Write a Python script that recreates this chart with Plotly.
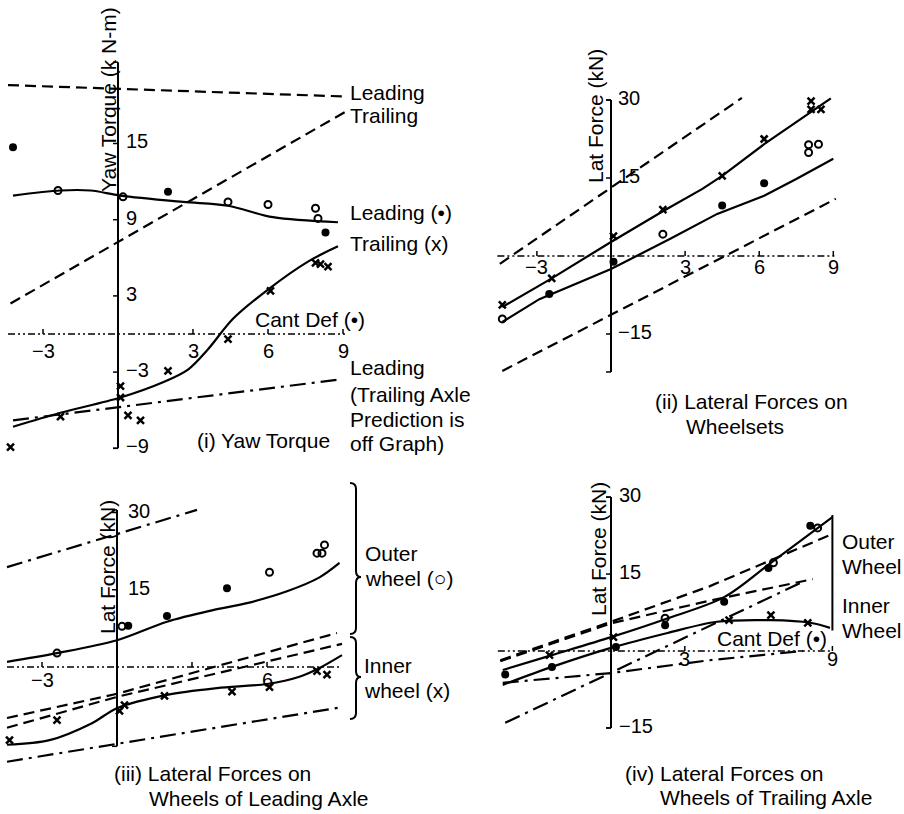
import plotly.graph_objects as go

W, H = 904, 814
FONT = "Liberation Sans, Arial, sans-serif"
FS = 21
FS_TICK = 20

# ---------------- Panel (i) Yaw Torque ----------------
i_lead_pred_x = [-4.4, 9.1]
i_lead_pred_y = [19.6, 18.7]
i_trail_pred_x = [-4.3, 9.1]
i_trail_pred_y = [2.4, 17.5]
i_lead_curve_x = [-4.2, -2.3, -1.1, 0.1, 2.6, 4.4, 6.2, 8.8]
i_lead_curve_y = [10.9, 11.3, 11.3, 10.9, 10.4, 10.1, 9.2, 8.8]
i_lead_open_x = [-2.4, 0.2, 4.4, 6.0, 7.9, 8.0]
i_lead_open_y = [11.3, 10.8, 10.4, 10.2, 9.9, 9.1]
i_lead_fill_x = [-4.2, 2.0, 8.3]
i_lead_fill_y = [14.7, 11.2, 8.0]
i_trail_curve_x = [-4.2, -2.3, 0.1, 1.8, 2.8, 3.6, 4.6, 6.0, 7.6, 8.8]
i_trail_curve_y = [-7.3, -6.2, -5.0, -3.8, -2.8, -1.2, 1.2, 3.5, 5.7, 6.9]
i_trail_mk_x = [-4.3, -2.3, 0.1, 0.1, 0.4, 0.9, 2.0, 4.4, 6.1, 7.9, 8.1, 8.4]
i_trail_mk_y = [-8.9, -6.5, -4.1, -5.0, -6.4, -6.8, -2.9, -0.4, 3.4, 5.6, 5.5, 5.3]
i_lead_dd_x = [-4.2, 8.8]
i_lead_dd_y = [-6.8, -3.6]
i_xticks = [-3, 3, 6, 9]
i_yticks = [15, 9, 3, -3, -9]

# ---------------- Panel (ii) Lateral forces on wheelsets ----------------
ii_up_dash_x = [-4.5, 5.3]
ii_up_dash_y = [-1.5, 30.4]
ii_lo_dash_x = [-4.4, 9.1]
ii_lo_dash_y = [-22.1, 11.0]
ii_x_curve_x = [-4.4, -2.4, 0.0, 2.1, 3.7, 4.5, 6.2, 8.2, 8.9]
ii_x_curve_y = [-9.8, -4.3, 2.7, 8.6, 12.9, 15.4, 21.5, 27.9, 30.3]
ii_x_mk_x = [-4.4, -2.4, 0.1, 2.1, 4.5, 6.2, 8.1, 8.1, 8.5]
ii_x_mk_y = [-9.4, -4.3, 3.8, 8.9, 15.4, 22.5, 29.8, 28.2, 28.2]
ii_o_curve_x = [-4.4, -2.9, 0.0, 2.4, 4.3, 6.2, 7.5, 9.0]
ii_o_curve_y = [-12.7, -8.3, -2.5, 3.3, 8.1, 11.6, 14.8, 18.7]
ii_fill_x = [-2.5, 0.1, 4.5, 6.2]
ii_fill_y = [-7.3, -1.1, 9.7, 14.0]
ii_open_x = [-4.4, 2.1, 8.0, 8.0, 8.4]
ii_open_y = [-12.1, 4.2, 21.4, 19.9, 21.5]
ii_xticks = [-3, 3, 6, 9]
ii_yticks = [30, 15, -15]

# ---------------- Panel (iii) Leading axle wheels ----------------
iii_up_dd_x = [-4.4, 3.2]
iii_up_dd_y = [19.4, 30.5]
iii_lo_dd_x = [-4.4, 9.0]
iii_lo_dd_y = [-18.4, -7.8]
iii_outer_curve_x = [-4.4, -2.4, 0.0, 2.0, 3.8, 5.2, 6.8, 8.1, 8.9]
iii_outer_curve_y = [1.0, 2.7, 5.2, 8.8, 11.0, 12.4, 14.7, 17.4, 20.2]
iii_outer_open_x = [-2.4, 0.2, 6.1, 8.0, 8.2, 8.3]
iii_outer_open_y = [2.7, 7.9, 18.4, 22.1, 22.1, 23.7]
iii_outer_fill_x = [0.45, 2.0, 4.4]
iii_outer_fill_y = [8.0, 9.9, 15.3]
iii_inner_curve_x = [-4.4, -2.7, -1.0, 0.0, 2.0, 4.0, 6.0, 7.3, 8.1, 9.0]
iii_inner_curve_y = [-15.1, -14.2, -10.9, -8.0, -5.4, -4.1, -3.3, -1.9, -0.2, 2.3]
iii_inner_mk_x = [-4.3, -2.4, 0.1, 0.3, 1.9, 4.6, 6.1, 8.0, 8.4]
iii_inner_mk_y = [-14.2, -10.3, -8.5, -7.4, -5.6, -4.8, -3.9, -0.8, -1.5]
iii_dash1_x = [-4.4, 0.0, 8.8]
iii_dash1_y = [-9.9, -5.2, 6.6]
iii_dash2_x = [-4.4, 0.0, 9.0]
iii_dash2_y = [-11.8, -5.8, 4.5]
iii_xticks = [-3, 3, 6]
iii_xlabels = [-3, 6]
iii_yticks = [30, 15]

# ---------------- Panel (iv) Trailing axle wheels ----------------
iv_up_dash_x = [-4.5, 0.0, 4.0, 8.9]
iv_up_dash_y = [-1.8, 5.7, 12.6, 22.6]
iv_lo_dash_x = [-4.5, 0.0, 4.0, 8.2]
iv_lo_dash_y = [-2.0, 5.4, 9.8, 14.0]
iv_outer_curve_x = [-4.4, -2.4, 0.0, 2.2, 4.6, 6.5, 9.0]
iv_outer_curve_y = [-3.7, -0.8, 2.7, 6.2, 10.5, 17.2, 26.1]
iv_inner_curve_x = [-4.4, -2.4, 0.0, 2.3, 4.3, 6.5, 8.1, 8.9]
iv_inner_curve_y = [-6.6, -3.1, 0.6, 3.5, 5.7, 6.0, 5.5, 4.5]
iv_fill_x = [-4.3, -2.4, 0.2, 2.2, 4.6, 6.4, 8.1]
iv_fill_y = [-4.6, -3.1, 0.8, 5.0, 9.6, 16.2, 24.4]
iv_open_x = [2.2, 6.6, 8.4]
iv_open_y = [6.4, 17.2, 24.0]
iv_x_mk_x = [-2.5, 0.1, 4.8, 6.5, 8.0]
iv_x_mk_y = [-0.8, 2.7, 6.0, 7.0, 5.5]
iv_steep_dd_x = [-4.3, 7.8]
iv_steep_dd_y = [-14.0, 13.5]
iv_flat_dd_x = [-4.4, 0.0, 4.0, 7.8]
iv_flat_dd_y = [-6.2, -4.3, -1.8, 0.0]
iv_brace_x = [9.0, 9.0]
iv_brace_y = [4.0, 26.5]
iv_xticks = [3, 9]
iv_yticks = [30, 15, -15]

# ---------------- geometry (pixels) ----------------
GEOM = {
    1: dict(ox=118, oy=334, sx=25.0, sy=12.7, box=(0, 55, 352, 458), xlab_dy=17, ylab_dx=6),
    2: dict(ox=611, oy=256, sx=24.7, sy=5.2, box=(480, 88, 850, 384), xlab_dy=11, ylab_dx=5),
    3: dict(ox=117, oy=667, sx=25.0, sy=5.15, box=(0, 498, 352, 770), xlab_dy=13, ylab_dx=9),
    4: dict(ox=611, oy=651, sx=24.6, sy=5.13, box=(480, 486, 850, 732), xlab_dy=8, ylab_dx=6),
}

fig = go.Figure()
layout_axes = {}
for n, g in GEOM.items():
    x0, y0, x1, y1 = g['box']
    xr = [(x0 - g['ox']) / g['sx'], (x1 - g['ox']) / g['sx']]
    yr = [(g['oy'] - y1) / g['sy'], (g['oy'] - y0) / g['sy']]
    suf = '' if n == 1 else str(n)
    layout_axes['xaxis' + suf] = dict(domain=[x0 / W, x1 / W], range=xr, visible=False,
                                      anchor='y' + suf, fixedrange=True)
    layout_axes['yaxis' + suf] = dict(domain=[1 - y1 / H, 1 - y0 / H], range=yr, visible=False,
                                      anchor='x' + suf, fixedrange=True)


def refs(n):
    suf = '' if n == 1 else str(n)
    return 'x' + suf, 'y' + suf


DASH = "11px,6px"
DASHDOT = "16px,6px,3px,6px"
AXDASH = "7px,3px,2px,3px,2px,3px"


def line(n, x, y, dash='solid', width=2.2, spline=False):
    xa, ya = refs(n)
    fig.add_trace(go.Scatter(x=x, y=y, mode='lines', xaxis=xa, yaxis=ya,
                             line=dict(color='black', width=width, dash=dash,
                                       shape='spline' if spline else 'linear', smoothing=0.9),
                             showlegend=False, hoverinfo='skip'))


def marks(n, x, y, kind):
    xa, ya = refs(n)
    if kind == 'fill':
        m = dict(symbol='circle', size=8, color='black')
    elif kind == 'open':
        m = dict(symbol='circle-open', size=7, color='black', line=dict(width=2, color='black'))
    else:
        m = dict(symbol='x-thin-open', size=7, color='black', line=dict(width=2.5, color='black'))
    fig.add_trace(go.Scatter(x=x, y=y, mode='markers', xaxis=xa, yaxis=ya, marker=m,
                             cliponaxis=False, showlegend=False, hoverinfo='skip'))


shapes = []
annots = []


def ptxt(text, px, py, xanchor='left', size=FS, angle=0):
    annots.append(dict(text=text, x=px / W, y=1 - py / H, xref='paper', yref='paper',
                       xanchor=xanchor, yanchor='middle', showarrow=False, textangle=angle,
                       font=dict(family=FONT, size=size, color='black')))


def fmt(v):
    return ('\u2212' + str(abs(v))) if v < 0 else str(v)


def axes(n, xlo, xhi, ylo, yhi, xticks, yticks, xlabels=None, ylabels=None):
    g = GEOM[n]
    xa, ya = refs(n)
    shapes.append(dict(type='line', xref=xa, yref=ya, x0=0, x1=0, y0=ylo, y1=yhi,
                       line=dict(color='black', width=2)))
    shapes.append(dict(type='line', xref=xa, yref=ya, x0=xlo, x1=xhi, y0=0, y1=0,
                       line=dict(color='black', width=1.3, dash=AXDASH)))
    for t in xticks:
        shapes.append(dict(type='line', xref=xa, yref=ya, x0=t, x1=t, y0=0, y1=5 / g['sy'],
                           line=dict(color='black', width=1.5)))
    for t in list(yticks) + [yhi, ylo]:
        shapes.append(dict(type='line', xref=xa, yref=ya, x0=-5 / g['sx'], x1=0, y0=t, y1=t,
                           line=dict(color='black', width=1.5)))
    for t in (xlabels if xlabels is not None else xticks):
        ptxt(fmt(t), g['ox'] + t * g['sx'], g['oy'] + g['xlab_dy'], xanchor='center', size=FS_TICK)
    for t in (ylabels if ylabels is not None else yticks):
        ptxt(fmt(t), g['ox'] + g['ylab_dx'], g['oy'] - t * g['sy'] - 2, size=FS_TICK)


# ---- panel (i)
axes(1, -4.4, 9.1, -9.0, 21.4, i_xticks, i_yticks)
line(1, i_lead_pred_x, i_lead_pred_y, dash=DASH)
line(1, i_trail_pred_x, i_trail_pred_y, dash=DASH)
line(1, i_lead_curve_x, i_lead_curve_y, spline=True)
line(1, i_trail_curve_x, i_trail_curve_y, spline=True)
line(1, i_lead_dd_x, i_lead_dd_y, dash=DASHDOT)
marks(1, i_lead_open_x, i_lead_open_y, 'open')
marks(1, i_lead_fill_x, i_lead_fill_y, 'fill')
marks(1, i_trail_mk_x, i_trail_mk_y, 'x')

# ---- panel (ii)
axes(2, -4.6, 9.1, -22.3, 30.0, ii_xticks, ii_yticks)
line(2, ii_up_dash_x, ii_up_dash_y, dash=DASH)
line(2, ii_lo_dash_x, ii_lo_dash_y, dash=DASH)
line(2, ii_x_curve_x, ii_x_curve_y)
line(2, ii_o_curve_x, ii_o_curve_y)
marks(2, ii_x_mk_x, ii_x_mk_y, 'x')
marks(2, ii_fill_x, ii_fill_y, 'fill')
marks(2, ii_open_x, ii_open_y, 'open')

# ---- panel (iii)
axes(3, -4.4, 9.0, -15.4, 30.5, iii_xticks, iii_yticks, xlabels=iii_xlabels)
line(3, iii_up_dd_x, iii_up_dd_y, dash=DASHDOT)
line(3, iii_lo_dd_x, iii_lo_dd_y, dash=DASHDOT)
line(3, iii_dash1_x, iii_dash1_y, dash=DASH)
line(3, iii_dash2_x, iii_dash2_y, dash=DASH)
line(3, iii_outer_curve_x, iii_outer_curve_y, spline=True)
line(3, iii_inner_curve_x, iii_inner_curve_y, spline=True)
marks(3, iii_outer_open_x, iii_outer_open_y, 'open')
marks(3, iii_outer_fill_x, iii_outer_fill_y, 'fill')
marks(3, iii_inner_mk_x, iii_inner_mk_y, 'x')

# ---- panel (iv)
axes(4, -4.6, 9.0, -15.0, 30.0, iv_xticks, iv_yticks)
line(4, iv_up_dash_x, iv_up_dash_y, dash=DASH)
line(4, iv_lo_dash_x, iv_lo_dash_y, dash=DASH)
line(4, iv_steep_dd_x, iv_steep_dd_y, dash=DASHDOT)
line(4, iv_flat_dd_x, iv_flat_dd_y, dash=DASHDOT)
line(4, iv_outer_curve_x, iv_outer_curve_y, spline=True)
line(4, iv_inner_curve_x, iv_inner_curve_y, spline=True)
line(4, iv_brace_x, iv_brace_y, width=2)
marks(4, iv_fill_x, iv_fill_y, 'fill')
marks(4, iv_open_x, iv_open_y, 'open')
marks(4, iv_x_mk_x, iv_x_mk_y, 'x')

# ---- texts
ptxt("Yaw Torque (k N-m)", 108, 100, xanchor='center', angle=-90)
ptxt("Lat Force (kN)", 596, 116, xanchor='center', angle=-90)
ptxt("Lat Force (kN)", 107, 567, xanchor='center', angle=-90)
ptxt("Lat Force (kN)", 598, 549, xanchor='center', angle=-90)

ptxt("Leading", 348, 92)
ptxt("Trailing", 348, 115)
ptxt("Leading (\u2022)", 348, 212)
ptxt("Trailing (x)", 348, 243)
ptxt("Cant Def (\u2022)", 253, 319)
ptxt("Leading", 348, 368)
ptxt("(Trailing Axle", 348, 394)
ptxt("Prediction is", 348, 419)
ptxt("off Graph)", 348, 444)
ptxt("(i) Yaw Torque", 195, 441)

ptxt("(ii) Lateral Forces on", 653, 402)
ptxt("Wheelsets", 684, 426)

ptxt("Outer", 363, 553)
ptxt("wheel (\u25cb)", 363, 578)
ptxt("Inner", 362, 665)
ptxt("wheel (x)", 362, 690)
ptxt("(iii) Lateral Forces on", 112, 773)
ptxt("Wheels of Leading Axle", 147, 798)

ptxt("Cant Def (\u2022)", 715, 638)
ptxt("Outer", 840, 541)
ptxt("Wheel", 840, 566)
ptxt("Inner", 840, 605)
ptxt("Wheel", 840, 630)
ptxt("(iv) Lateral Forces on", 623, 773)
ptxt("Wheels of Trailing Axle", 658, 797)


# ---- curly braces for panel (iii) (drawn in paper space)
def brace(xl, xr, ytop, ymid, ybot):
    def p(x, y):
        return f"{x / W:.5f},{1 - y / H:.5f}"
    return (f"M {p(xl, ytop)} Q {p(xr, ytop)} {p(xr, ytop + 6)} L {p(xr, ymid - 6)} "
            f"Q {p(xr, ymid)} {p(xr + 5, ymid)} Q {p(xr, ymid)} {p(xr, ymid + 6)} "
            f"L {p(xr, ybot - 6)} Q {p(xr, ybot)} {p(xl, ybot)}")


shapes.append(dict(type='path', xref='paper', yref='paper', path=brace(350, 356, 483, 577, 634),
                   line=dict(color='black', width=2)))
shapes.append(dict(type='path', xref='paper', yref='paper', path=brace(350, 356, 637, 677, 719),
                   line=dict(color='black', width=2)))

fig.update_layout(width=W, height=H, margin=dict(l=0, r=0, t=0, b=0), autosize=False,
                  paper_bgcolor='white', plot_bgcolor='white', showlegend=False,
                  shapes=shapes, annotations=annots, **layout_axes)

fig.write_html("out.html")
